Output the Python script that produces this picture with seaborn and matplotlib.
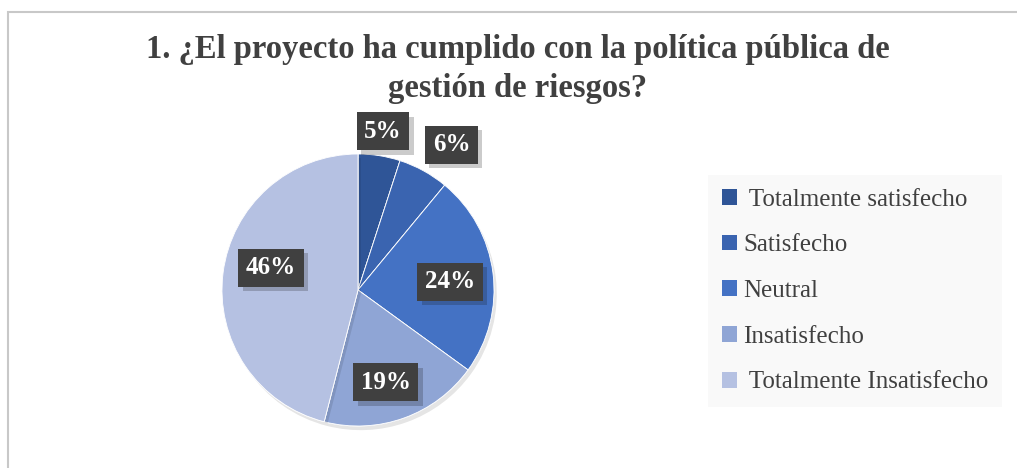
import matplotlib
matplotlib.use('Agg')
import matplotlib.pyplot as plt
import matplotlib.patheffects as pe
import numpy as np
import seaborn as sns

sns.set_theme(style='white')
plt.rcParams['font.family'] = ['Liberation Serif', 'DejaVu Serif']

# Data
categories = [' Totalmente satisfecho', 'Satisfecho', 'Neutral', 'Insatisfecho', ' Totalmente Insatisfecho']
values = [5, 6, 24, 19, 46]
colors = ['#2F5597', '#3A64B0', '#4472C4', '#8FA5D5', '#B5C1E2']
title = '1. ¿El proyecto ha cumplido con la política pública de\ngestión de riesgos?'

# label placement (radius in pie units, angle offset in degrees)
label_r = [1.18, 1.27, 0.68, 0.71, 0.66]
label_da = [0, -4, -2, -3, -7]

W, H = 1017, 468
fig = plt.figure(figsize=(W / 100, H / 100), dpi=100)

# frame of the chart
fig.add_artist(plt.Rectangle((8 / W, -0.1), 1.1, (H - 12) / H + 0.1, transform=fig.transFigure,
                             fill=False, edgecolor='#C8C8C8', linewidth=1.5))

cx, cy, R = 358, 290, 136
ax = fig.add_axes([(cx - R) / W, (H - cy - R) / H, 2 * R / W, 2 * R / H])
wedges, _ = ax.pie(values, colors=colors, startangle=90, counterclock=False, radius=1,
                   wedgeprops=dict(edgecolor='white', linewidth=0.6))
for w in wedges:
    w.set_path_effects([pe.withSimplePatchShadow(offset=(2, -3), shadow_rgbFace='#000000', alpha=0.1),
                        pe.Normal()])
ax.set_xlim(-1, 1)
ax.set_ylim(-1, 1)
ax.axis('off')

for w, v, r, da in zip(wedges, values, label_r, label_da):
    ang = np.deg2rad((w.theta1 + w.theta2) / 2 + da)
    t = ax.text(r * np.cos(ang), r * np.sin(ang), f'{v}%', ha='center', va='center',
                fontsize=18, fontweight='bold', color='white', clip_on=False, zorder=5,
                bbox=dict(boxstyle='square,pad=0.3', facecolor='#404040', edgecolor='none'))
    t.get_bbox_patch().set_path_effects([pe.withSimplePatchShadow(offset=(3, -3), alpha=0.22), pe.Normal()])

fig.text(518 / W, 1 - 69 / H, title, ha='center', va='center', fontsize=23.5, fontweight='bold',
         color='#404040', linespacing=1.33)

leg = fig.legend(wedges, categories, loc='center left', bbox_to_anchor=(708 / W, 1 - 291 / H),
                 frameon=True, fontsize=18, handlelength=0.6, handleheight=0.6, handletextpad=0.25,
                 labelspacing=0.95, borderpad=0.55, borderaxespad=0, labelcolor='#404040')
leg.get_frame().set_facecolor('#F8F8F8')
leg.get_frame().set_edgecolor('none')
leg.get_frame().set_boxstyle('square', pad=0)
for h in leg.legend_handles:
    h.set_path_effects([])
    h.set_edgecolor('none')

fig.savefig('out.png', dpi=100)
